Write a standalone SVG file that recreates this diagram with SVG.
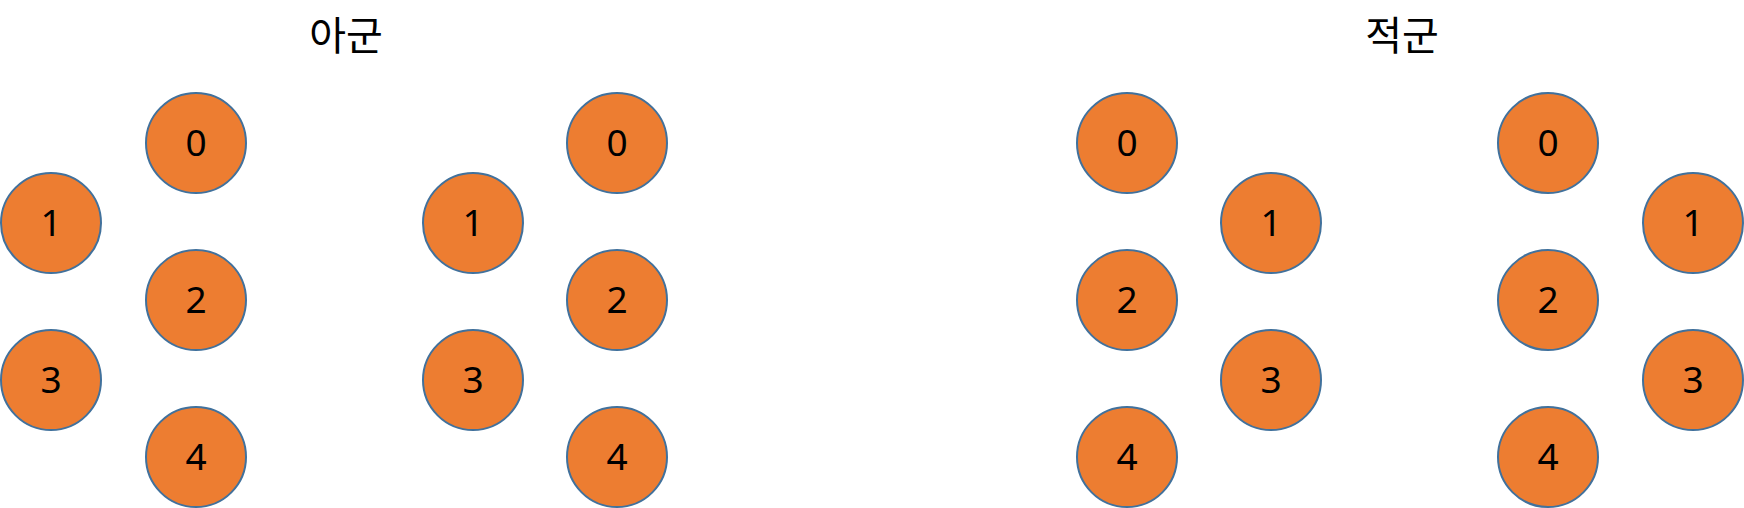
<svg xmlns="http://www.w3.org/2000/svg" width="1744" height="508" viewBox="0 0 1744 508">
<style>
.n{fill:#ED7D31;stroke:#41719C;stroke-width:2}
.t{font-family:"Noto Sans","Noto Sans CJK KR",sans-serif;font-size:37px;fill:#000;text-anchor:middle}
.h{font-family:"Noto Sans CJK KR",sans-serif;font-size:40px;fill:#000;text-anchor:middle}
</style>
<rect width="1744" height="508" fill="#fff"/>
<text class="h" x="346" y="50">아군</text>
<text class="h" x="1402" y="50">적군</text>
<g id="connectors"/>
<g id="a1-0"><circle class="n" cx="196" cy="143" r="50"/><text class="t" x="196" y="156">0</text></g>
<g id="a1-1"><circle class="n" cx="51" cy="223" r="50"/><text class="t" x="51" y="236">1</text></g>
<g id="a1-2"><circle class="n" cx="196" cy="300" r="50"/><text class="t" x="196" y="313">2</text></g>
<g id="a1-3"><circle class="n" cx="51" cy="380" r="50"/><text class="t" x="51" y="393">3</text></g>
<g id="a1-4"><circle class="n" cx="196" cy="457" r="50"/><text class="t" x="196" y="470">4</text></g>
<g id="a2-0"><circle class="n" cx="617" cy="143" r="50"/><text class="t" x="617" y="156">0</text></g>
<g id="a2-1"><circle class="n" cx="473" cy="223" r="50"/><text class="t" x="473" y="236">1</text></g>
<g id="a2-2"><circle class="n" cx="617" cy="300" r="50"/><text class="t" x="617" y="313">2</text></g>
<g id="a2-3"><circle class="n" cx="473" cy="380" r="50"/><text class="t" x="473" y="393">3</text></g>
<g id="a2-4"><circle class="n" cx="617" cy="457" r="50"/><text class="t" x="617" y="470">4</text></g>
<g id="e1-0"><circle class="n" cx="1127" cy="143" r="50"/><text class="t" x="1127" y="156">0</text></g>
<g id="e1-1"><circle class="n" cx="1271" cy="223" r="50"/><text class="t" x="1271" y="236">1</text></g>
<g id="e1-2"><circle class="n" cx="1127" cy="300" r="50"/><text class="t" x="1127" y="313">2</text></g>
<g id="e1-3"><circle class="n" cx="1271" cy="380" r="50"/><text class="t" x="1271" y="393">3</text></g>
<g id="e1-4"><circle class="n" cx="1127" cy="457" r="50"/><text class="t" x="1127" y="470">4</text></g>
<g id="e2-0"><circle class="n" cx="1548" cy="143" r="50"/><text class="t" x="1548" y="156">0</text></g>
<g id="e2-1"><circle class="n" cx="1693" cy="223" r="50"/><text class="t" x="1693" y="236">1</text></g>
<g id="e2-2"><circle class="n" cx="1548" cy="300" r="50"/><text class="t" x="1548" y="313">2</text></g>
<g id="e2-3"><circle class="n" cx="1693" cy="380" r="50"/><text class="t" x="1693" y="393">3</text></g>
<g id="e2-4"><circle class="n" cx="1548" cy="457" r="50"/><text class="t" x="1548" y="470">4</text></g>
</svg>
